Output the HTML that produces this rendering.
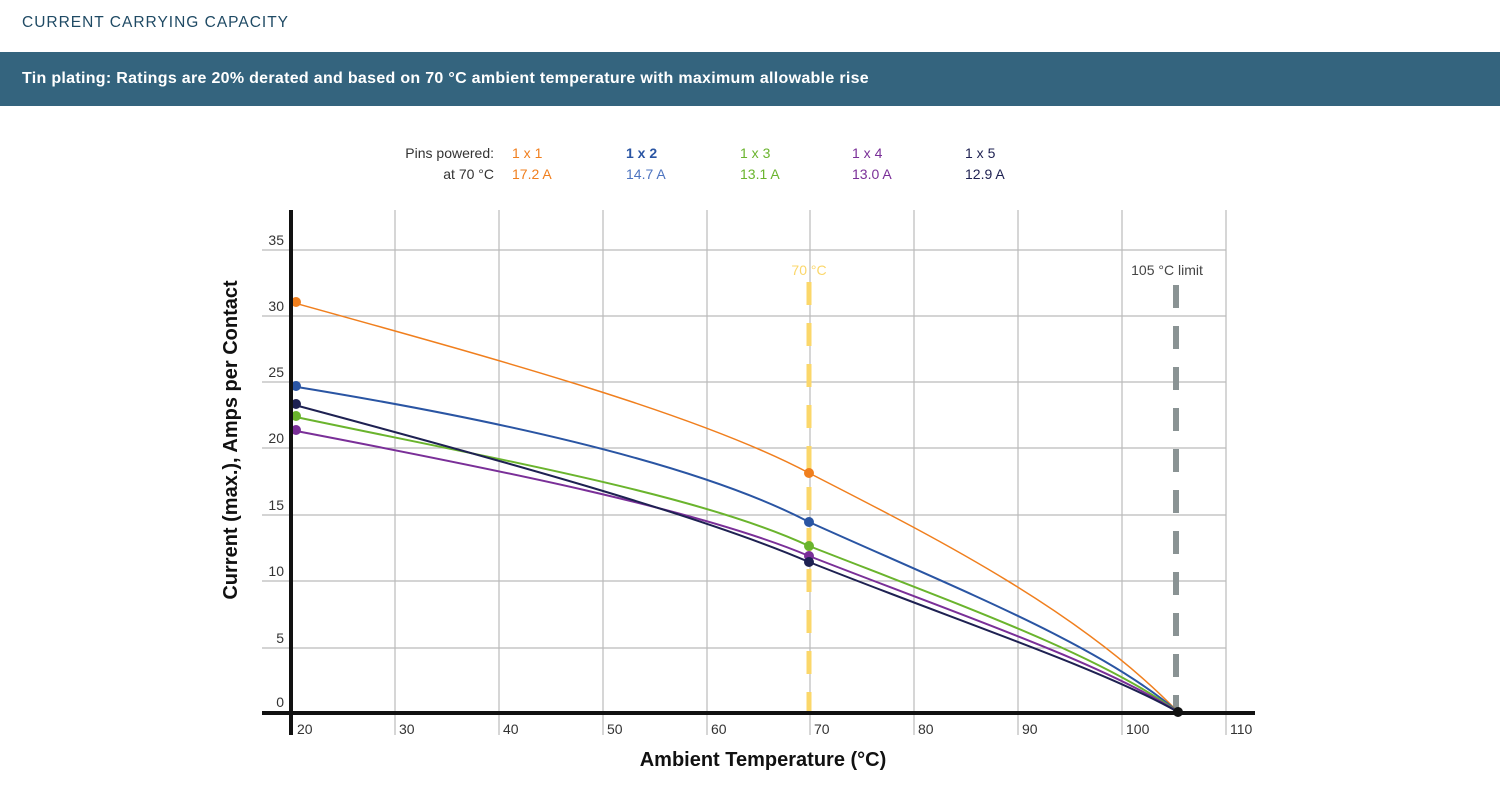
<!DOCTYPE html>
<html><head><style>
body{margin:0;width:1500px;height:809px;background:#fff;font-family:"Liberation Sans",sans-serif;overflow:hidden;position:relative}
.t{position:absolute;left:22px;top:14px;font-size:15.5px;letter-spacing:1px;color:#1f4a64}
.bar{position:absolute;left:0;top:52px;width:1500px;height:54px;background:#34647e;color:#fff;font-weight:bold;font-size:16px;line-height:54px;padding-left:22px;box-sizing:border-box;letter-spacing:.3px}
</style></head><body>
<div class="t">CURRENT CARRYING CAPACITY</div>
<div class="bar">Tin plating: Ratings are 20% derated and based on 70 °C ambient temperature with maximum allowable rise</div>
<svg width="1500" height="809" style="position:absolute;left:0;top:0" font-family="Liberation Sans, sans-serif">
<g font-size="14">
<text x="494" y="158" text-anchor="end" fill="#333">Pins powered:</text>
<text x="494" y="179" text-anchor="end" fill="#333">at 70 °C</text>
<text x="512" y="158" fill="#f07f1e">1 x 1</text><text x="512" y="179" fill="#f07f1e">17.2 A</text>
<text x="626" y="158" fill="#2a55a3" font-weight="bold">1 x 2</text><text x="626" y="179" fill="#4d74c0">14.7 A</text>
<text x="740" y="158" fill="#6ab42d">1 x 3</text><text x="740" y="179" fill="#6ab42d">13.1 A</text>
<text x="852" y="158" fill="#7a2f98">1 x 4</text><text x="852" y="179" fill="#7a2f98">13.0 A</text>
<text x="965" y="158" fill="#1e2152">1 x 5</text><text x="965" y="179" fill="#1e2152">12.9 A</text>
</g>
<g stroke="#bbb" stroke-width="1.2">
<line x1="262" y1="250" x2="1226" y2="250"/><line x1="262" y1="316" x2="1226" y2="316"/>
<line x1="262" y1="382" x2="1226" y2="382"/><line x1="262" y1="448" x2="1226" y2="448"/>
<line x1="262" y1="515" x2="1226" y2="515"/><line x1="262" y1="581" x2="1226" y2="581"/>
<line x1="262" y1="648" x2="1226" y2="648"/>
<line x1="395" y1="210" x2="395" y2="735"/><line x1="499" y1="210" x2="499" y2="735"/>
<line x1="603" y1="210" x2="603" y2="735"/><line x1="707" y1="210" x2="707" y2="735"/>
<line x1="810" y1="210" x2="810" y2="735"/><line x1="914" y1="210" x2="914" y2="735"/>
<line x1="1018" y1="210" x2="1018" y2="735"/><line x1="1122" y1="210" x2="1122" y2="735"/>
<line x1="1226" y1="210" x2="1226" y2="735"/>
</g>
<line x1="809" y1="282" x2="809" y2="712" stroke="#fbd76a" stroke-width="5" stroke-dasharray="23 18"/>
<line x1="1176" y1="285" x2="1176" y2="712" stroke="#8a9394" stroke-width="6" stroke-dasharray="23 18"/>
<text x="809" y="275" text-anchor="middle" font-size="14" fill="#fbd76a">70 °C</text>
<text x="1167" y="275" text-anchor="middle" font-size="14" fill="#444">105 °C limit</text>
<g fill="none" stroke-width="2">
<path d="M291,302 C500,360 700,415 809,473 C930,535 1080,610 1178,712" stroke="#f07f1e" stroke-width="1.5"/>
<path d="M291,386 C500,420 700,465 809,522 C960,590 1100,645 1178,712" stroke="#2a55a3"/>
<path d="M291,416 C500,460 700,495 809,546 C960,605 1100,655 1178,712" stroke="#6ab42d"/>
<path d="M291,430 C500,470 700,510 809,556 C960,615 1100,662 1178,712" stroke="#7a2f98"/>
<path d="M291,404 C500,460 700,515 809,562 C960,622 1100,668 1178,712" stroke="#1e2152"/>
</g>
<g>
<circle cx="296" cy="302" r="5" fill="#f07f1e"/><circle cx="809" cy="473" r="5" fill="#f07f1e"/>
<circle cx="296" cy="386" r="5" fill="#2a55a3"/><circle cx="809" cy="522" r="5" fill="#2a55a3"/>
<circle cx="296" cy="416" r="5" fill="#6ab42d"/><circle cx="809" cy="546" r="5" fill="#6ab42d"/>
<circle cx="296" cy="430" r="5" fill="#7a2f98"/><circle cx="809" cy="556" r="5" fill="#7a2f98"/>
<circle cx="296" cy="404" r="5" fill="#1e2152"/><circle cx="809" cy="562" r="5" fill="#1e2152"/>
<circle cx="1178" cy="712" r="5" fill="#111"/>
</g>
<line x1="291" y1="210" x2="291" y2="735" stroke="#111" stroke-width="4"/>
<line x1="262" y1="713" x2="1255" y2="713" stroke="#111" stroke-width="4"/>
<g font-size="14" fill="#333" text-anchor="end">
<text x="284" y="245">35</text><text x="284" y="311">30</text><text x="284" y="377">25</text>
<text x="284" y="443">20</text><text x="284" y="510">15</text><text x="284" y="576">10</text>
<text x="284" y="643">5</text><text x="284" y="707">0</text>
</g>
<g font-size="14" fill="#333">
<text x="297" y="734">20</text><text x="399" y="734">30</text><text x="503" y="734">40</text>
<text x="607" y="734">50</text><text x="711" y="734">60</text><text x="814" y="734">70</text>
<text x="918" y="734">80</text><text x="1022" y="734">90</text><text x="1126" y="734">100</text>
<text x="1230" y="734">110</text>
</g>
<text x="763" y="766" text-anchor="middle" font-size="20" font-weight="bold" fill="#111">Ambient Temperature (°C)</text>
<text transform="translate(237,440) rotate(-90)" text-anchor="middle" font-size="20" font-weight="bold" fill="#111">Current (max.), Amps per Contact</text>
</svg>
</body></html>
